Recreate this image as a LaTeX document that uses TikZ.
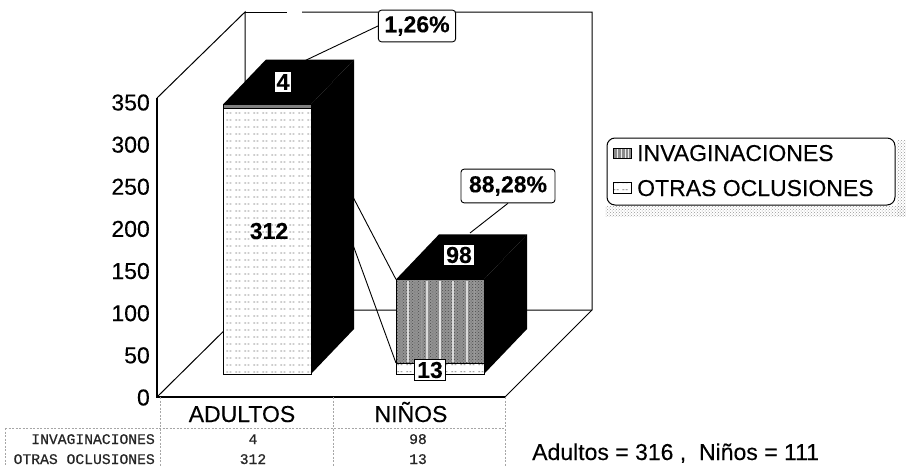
\documentclass[tikz,border=0pt]{standalone}
\usepackage{fontspec}
\setmainfont[FakeBold=0.25]{Liberation Sans}
\newfontfamily\monofnt[FakeBold=0.6]{Liberation Mono}
\usetikzlibrary{patterns}
\pgfdeclarepatternformonly{otrasdash}{\pgfqpoint{0pt}{0pt}}{\pgfqpoint{9pt}{7pt}}{\pgfqpoint{9pt}{7pt}}{%
  \pgfsetlinewidth{0.8pt}%
  \pgfpathmoveto{\pgfqpoint{1.5pt}{3.5pt}}\pgfpathlineto{\pgfqpoint{3.5pt}{3.5pt}}%
  \pgfpathmoveto{\pgfqpoint{5pt}{3.5pt}}\pgfpathlineto{\pgfqpoint{7pt}{3.5pt}}%
  \pgfusepath{stroke}}
\begin{document}
\begin{tikzpicture}[x=1pt,y=-1pt,
  frame/.style={line width=1pt,black},
  axisline/.style={line width=1.2pt,black},
  tgrid/.style={gray!70,dash pattern=on 2pt off 1.5pt,line width=0.5pt},
  otrasface/.style={preaction={fill=white},pattern=otrasdash,pattern color=black!55,draw=black,line width=0.6pt},
  darkface/.style={fill=black},
  axlbl/.style={font=\fontsize{23}{26}\selectfont,anchor=east,inner sep=0pt},
  catlbl/.style={font=\fontsize{23}{26}\selectfont,anchor=base,inner sep=0pt},
  valbox/.style={draw,fill=white,line width=0.8pt,inner sep=2.5pt,font=\bfseries\fontsize{23}{26}\selectfont},
  pctbox/.style={draw,fill=white,line width=0.9pt,rounded corners=3pt,inner xsep=6pt,inner ysep=6pt,font=\bfseries\fontsize{23}{26}\selectfont},
  tabtxt/.style={font=\monofnt\fontsize{14.7}{16}\selectfont,text=black!85,inner sep=0pt},
  legtxt/.style={font=\fontsize{23}{26}\selectfont,anchor=base west,inner sep=0pt}]
\useasboundingbox (0,0) rectangle (906,466);

% scan shadow strips near legend
\fill[pattern=crosshatch dots,pattern color=gray!80] (605,206) rectangle (906,216);
\fill[pattern=crosshatch dots,pattern color=gray!80] (897,140) rectangle (906,216);

% chart frame corners
\coordinate (FLT) at (157,98);
\coordinate (FLB) at (157,397);
\coordinate (BLT) at (245,12);
\coordinate (BLB) at (245,310);
\coordinate (BRT) at (592,12);
\coordinate (BRB) at (592,310);
\coordinate (FRB) at (505,397);
\coordinate (gapA) at (287,12);
\coordinate (gapB) at (302,12);

\draw[frame] (FLT) -- (BLT) -- (BLB);
\draw[frame] (BLT) -- (gapA);
\draw[frame] (gapB) -- (BRT) -- (BRB) -- (FRB);
\draw[frame] (FLB) -- (BLB) -- (BRB);

% lines between the bars
\coordinate (la) at (353,197);
\coordinate (lb) at (353,245);
\coordinate (ra) at (396,279.4);
\coordinate (rb) at (396,363);
\draw[line width=0.9pt] (la) -- (ra);
\draw[line width=0.9pt] (lb) -- (rb);

% left bar (ADULTOS)
\fill[darkface] (311,374) -- (354,329) -- (354,59.5) -- (311,104.5) -- cycle;
\fill[darkface] (223,104.5) -- (311,104.5) -- (354,59.5) -- (266,59.5) -- cycle;
\draw[otrasface] (223,108) rectangle (311,374);
\draw[fill=black!50,line width=0.6pt] (223,104.5) rectangle (311,108);

% right bar (NINOS)
\fill[darkface] (484,374) -- (527,329) -- (527,234.4) -- (484,279.4) -- cycle;
\fill[darkface] (396,279.4) -- (484,279.4) -- (527,234.4) -- (439,234.4) -- cycle;
\draw[otrasface] (396,363) rectangle (484,374);
\fill[black!42] (396,279.4) rectangle (484,363);
\fill[pattern=crosshatch dots,pattern color=black!70] (396,279.4) rectangle (484,363);
\foreach \sx/\sw/\sc in {400/1.0/55,408/2.0/85,415/0.8/55,421/0.8/60,427/2.0/85,433/0.8/55,440/2.4/90,447/0.8/55,453/1.8/85,460/0.8/55,467/1.8/85,474/0.8/60,479/1.0/55}
  \draw[white!\sc!black,line width=\sw pt] (\sx,280.5) -- (\sx,362);
\draw[line width=0.6pt] (396,279.4) rectangle (484,363);

% axis
\draw[axisline] (FLT) -- (FLB) -- (FRB);

% value labels
\node[valbox] (v4) at (283,82) {4};
\node[font=\bfseries\fontsize{23}{26}\selectfont,inner sep=1pt] (v312) at (269,231) {312};
\node[valbox] (v98) at (459,255) {98};
\node[valbox] (v13) at (430,370) {13};

% percentage call-outs
\node[pctbox] (p1) at (417,26) {1,26\%};
\coordinate (p1end) at (300,63);
\draw[line width=0.9pt] (p1.west) -- (p1end);
\node[pctbox,inner xsep=8pt,inner ysep=7pt] (p2) at (508,186) {88,28\%};
\coordinate (p2end) at (470,233);
\draw[line width=0.9pt] (p2.south) -- (p2end);

% y axis labels
\foreach \v [count=\k from 0] in {0,50,100,150,200,250,300,350}
  \node[axlbl] (ax\v) at (150,{397.5-42.14*\k}) {\v};

% category labels
\node[catlbl] (cadult) at (242,422) {ADULTOS};
\node[catlbl] (cnino) at (411,422) {NIÑOS};

% data table
\draw[tgrid] (5,428) -- (505,428);
\draw[tgrid] (5,428) -- (5,466);
\draw[tgrid] (160,397) -- (160,466);
\draw[tgrid] (333,397) -- (333,466);
\draw[tgrid] (505,397) -- (505,466);
\node[tabtxt,anchor=base east] (r1) at (155,444) {INVAGINACIONES};
\node[tabtxt,anchor=base east] (r2) at (155,464) {OTRAS OCLUSIONES};
\node[tabtxt,anchor=base] (t11) at (253,444) {4};
\node[tabtxt,anchor=base] (t21) at (253,464) {312};
\node[tabtxt,anchor=base] (t12) at (418,444) {98};
\node[tabtxt,anchor=base] (t22) at (418,464) {13};

% legend
\draw[line width=1pt,rounded corners=8pt,fill=white] (607,138) rectangle (895,205);
\fill[black!45] (613,148) rectangle (631,158);
\foreach \sx in {617,621,625,628}
  \draw[white!85!gray,line width=1pt] (\sx,148.5) -- (\sx,157.5);
\draw[line width=0.6pt] (613,148) rectangle (631,158);
\draw[otrasface] (613,182) rectangle (631,193);
\node[legtxt] (l1) at (637,161) {INVAGINACIONES};
\node[legtxt] (l2) at (637,196) {OTRAS OCLUSIONES};

% totals
\node[font=\fontsize{23}{26}\selectfont,anchor=base west,inner sep=0pt] (tot) at (532,460) {Adultos = 316 ,\ \ Niños = 111};
\end{tikzpicture}
\end{document}
